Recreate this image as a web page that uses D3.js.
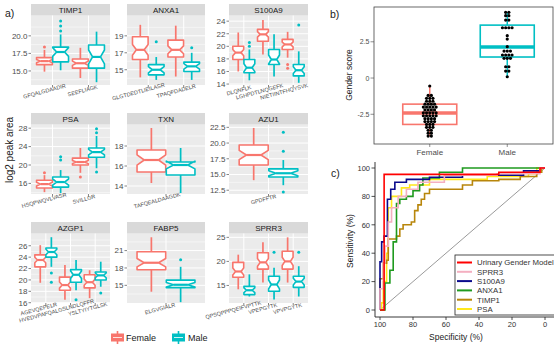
<!DOCTYPE html>
<html>
<head>
<meta charset="utf-8">
<script src="https://cdn.jsdelivr.net/npm/d3@7"></script>
<style>
body { margin: 0; background: #fff; }
svg { display: block; font-family: "Liberation Sans", Arial, sans-serif; }
</style>
</head>
<body>
<svg id="fig" width="554" height="347"></svg>
<script>
"use strict";

// ---- a) peptide boxplots ----
var sexes = ["Female", "Male"];
var sexColours = ["#F8766D", "#00BFC4"];
var groupSizes = [46, 28]; // used for the notches

var proteins = ["TIMP1", "ANXA1", "S100A9", "PSA", "TXN", "AZU1", "AZGP1", "FABP5", "SPRR3"];
var peptides = [
	["GFQALGDAADIR", "SEEFLIAGK"],
	["GLGTDEDTLIEILASR", "TPAQFDADELR"],
	["DLQNFLK", "LGHPDTLNQGEFK", "NIETIINTFHQYSVK"],
	["HSQPWQVLVASR", "SVILLGR"],
	["TAFQEALDAAGDK"],
	["GPDFFTR"],
	["AGEVQEPELR", "HVEDVPAFQALGSLNDLQFFR", "YSLTYIYTGLSK"],
	["ELGVGIALR"],
	["QPSQPPPQEIFVPTTK", "VPEPGYTK", "VPVPGYTK"]
];
var yDomains = [[13, 22.9], [13.2, 21.4], [13.85, 24.9], [13.7, 28.8], [13.2, 20.15],
	[11.9, 22.95], [15.95, 28.15], [11.95, 23.95], [11.35, 25.8]];
var yTicks = [[15, 17.5, 20], [15, 17, 19], [14, 16, 18, 20, 22, 24], [16, 20, 24, 28], [14, 16, 18],
	[12.5, 15, 17.5, 20, 22.5], [16, 18, 20, 22, 24, 26], [15, 18, 21], [15, 20, 25]];

// [lower whisker, Q1, median, Q3, upper whisker] per peptide
var femaleStats = [
	[[14.9, 15.9, 16.4, 16.9, 18.0], [14.0, 15.4, 16.1, 16.7, 18.3]],
	[[14.1, 16.2, 17.35, 18.9, 20.3], [14.2, 16.5, 17.35, 18.5, 20.2]],
	[[16.0, 17.9, 19.0, 20.0, 22.2], [18.7, 20.8, 21.9, 22.7, 24.2], [18.2, 19.5, 20.3, 21.1, 22.3]],
	[[14.1, 15.0, 15.85, 16.7, 17.8], [18.3, 20.0, 20.65, 21.5, 23.7]],
	[[14.3, 15.4, 16.6, 17.6, 19.8]],
	[[14.1, 16.5, 18.1, 19.7, 22.4]],
	[[19.5, 22.3, 23.5, 24.4, 26.1], [16.5, 18.2, 19.1, 20.5, 22.6], [16.8, 18.6, 19.6, 20.9, 21.7]],
	[[13.9, 17.7, 18.9, 20.8, 23.3]],
	[[14.2, 16.7, 17.9, 19.8, 21.4], [15.6, 18.4, 19.8, 21.8, 24.0], [15.6, 18.4, 20.0, 22.1, 25.0]]
];
var maleStats = [
	[[15.1, 16.3, 17.7, 18.4, 20.2], [13.4, 15.4, 17.0, 18.7, 20.6]],
	[[13.8, 14.4, 15.0, 15.6, 16.5], [13.8, 14.8, 15.4, 15.9, 17.0]],
	[[14.6, 15.8, 16.6, 17.9, 19.5], [15.2, 17.1, 17.9, 19.5, 21.9], [14.2, 15.3, 16.2, 17.1, 19.2]],
	[[13.9, 15.2, 16.3, 17.4, 18.9], [19.3, 21.7, 22.8, 23.7, 26.3]],
	[[13.3, 15.1, 16.1, 16.4, 17.8]],
	[[13.3, 14.6, 15.2, 15.9, 17.3]],
	[[22.3, 24.0, 24.9, 25.6, 27.5], [18.2, 19.6, 20.9, 21.8, 23.5], [18.8, 20.0, 20.8, 21.4, 23.2]],
	[[12.1, 14.6, 15.1, 15.9, 18.2]],
	[[12.7, 13.1, 14.0, 14.8, 17.3], [12.1, 13.8, 15.2, 16.9, 18.7], [12.7, 14.6, 15.8, 16.9, 19.0]]
];
var femaleOutliers = [[[18.4], []], [[], []], [[], [], [17.1, 16.5]], [[18.3], [17.4]], [[]], [[]],
	[[], [], []], [[]], [[], [], []]];
var maleOutliers = [[[22.1, 21.4, 20.7], []], [[18.3], [17.6]], [[20.0, 20.6], [], [23.4]],
	[[21.1, 21.8], [27.9, 27.0, 18.5]], [[]], [[21.7, 18.7, 12.2]],
	[[21.2, 19.6], [16.5], [17.7]], [[19.4]], [[], [21.9], [21.9]]];

// ---- b) gender score ----
var femaleScores = [-0.55, -1.2, -1.2, -1.4, -1.4, -1.4, -1.6, -1.6, -1.6, -1.8, -1.8, -1.8, -1.8,
	-2.0, -2.0, -2.0, -2.0, -2.0, -2.2, -2.2, -2.2, -2.2, -2.4, -2.4, -2.4, -2.4, -2.4,
	-2.6, -2.6, -2.6, -2.6, -2.6, -2.8, -2.8, -2.8, -2.8, -3.0, -3.0, -3.0, -3.0,
	-3.2, -3.2, -3.2, -3.4, -3.4, -3.4, -3.6, -3.6, -3.8, -3.8, -4.0, -4.0];
var maleScores = [4.53, 4.53, 4.3, 4.3, 4.0, 4.0, 3.47, 3.47, 3.47, 3.47, 2.92, 2.69, 2.16,
	1.86, 1.86, 1.86, 1.59, 1.59, 1.59, 1.59, 1.36, 1.36, 1.36, 0.78, 0.78, 0.48, 0.48, 0.09];
var scoreStats = [[-4.0, -3.2, -2.42, -1.8, -0.55], [0.07, 1.45, 2.14, 3.65, 4.5]];
var scoreTicks = [-2.5, 0, 2.5];

// ---- c) ROC curves, [specificity %, sensitivity %] corners ----
var rocNames = ["Urinary Gender Model", "SPRR3", "S100A9", "ANXA1", "TIMP1", "PSA"];
var rocColours = ["#FF0000", "#F4AFC0", "#0A0A8C", "#1F9A1F", "#B8860B", "#FFE81A"];
var rocModel = [[100, 0], [97.5, 0], [97.5, 95.5], [28, 95.5], [28, 97], [3, 97], [3, 100], [0, 100]];
var rocSPRR3 = [[100, 0], [100, 15], [98, 15], [98, 33], [97, 33], [97, 45], [95, 45], [95, 62], [93, 62],
	[93, 72], [89, 72], [89, 80], [84, 80], [84, 85], [77, 85], [77, 90], [61, 90], [61, 95], [29, 95],
	[29, 96], [3, 96], [3, 100], [0, 100]];
var rocS100A9 = [[100, 0], [100, 34], [99, 34], [99, 48], [97.5, 48], [97.5, 52], [95.5, 52], [95.5, 78],
	[93.5, 78], [93.5, 85], [91, 85], [91, 90], [84, 90], [84, 92], [70, 92], [70, 93.5], [50, 93.5],
	[50, 95], [13, 95], [13, 98], [3, 98], [3, 100], [0, 100]];
var rocANXA1 = [[100, 0], [97, 0], [97, 19], [94, 19], [94, 28], [92, 28], [92, 48], [90, 48], [90, 75],
	[88, 75], [88, 78], [84, 78], [84, 80], [80, 80], [80, 84], [76, 84], [76, 88], [74, 88], [74, 93],
	[64, 93], [64, 97], [50, 97], [50, 100], [0, 100]];
var rocTIMP1 = [[100, 0], [100, 22], [98, 22], [98, 33], [96, 33], [96, 35], [95, 35], [95, 50], [90, 50],
	[90, 52], [88, 52], [88, 57], [86, 57], [86, 60], [81, 60], [81, 62], [79, 62], [79, 70], [77, 70],
	[77, 74], [75, 74], [75, 78], [73, 78], [73, 82], [70, 82], [70, 85], [50, 85], [50, 88], [44, 88],
	[44, 91], [28, 91], [28, 92], [15, 92], [15, 94], [5, 94], [5, 97], [2, 97], [2, 100], [0, 100]];
var rocPSA = [[100, 0], [99, 0], [99, 5], [98, 5], [98, 20], [96, 20], [96, 40], [95, 40], [95, 72],
	[93, 72], [93, 80], [87, 80], [87, 86], [82, 86], [82, 88], [70, 88], [70, 92], [35, 92], [35, 94],
	[10, 94], [10, 96], [5, 96], [5, 100], [0, 100]];
var rocCurves = [rocModel, rocSPRR3, rocS100A9, rocANXA1, rocTIMP1, rocPSA];
var rocTicks = [0, 20, 40, 60, 80, 100];


var svg = d3.select("#fig");
var grey30 = "#4D4D4D";

function label (x, y, txt, size, opts) {
	opts = opts || {};
	return svg.append("text")
		.attr("x", x).attr("y", y)
		.attr("font-size", size)
		.attr("fill", opts.fill || "#1A1A1A")
		.attr("text-anchor", opts.anchor || "start")
		.attr("transform", opts.rotate ? "rotate(" + opts.rotate + "," + x + "," + y + ")" : null)
		.text(txt);
}

// ========== a) ==========
var colX = [[31, 110], [127, 205], [229, 308]];
var rowY = [[15.5, 85], [124.5, 194], [233.5, 303]];
var stripH = 11.5;

proteins.forEach(function (prot, i) {
	var x0 = colX[i % 3][0], x1 = colX[i % 3][1];
	var y0 = rowY[Math.floor(i / 3)][0], y1 = rowY[Math.floor(i / 3)][1];
	var g = svg.append("g");
	var y = d3.scaleLinear().domain(yDomains[i]).range([y1, y0]);
	var x = d3.scalePoint().domain(peptides[i]).range([x0, x1]).padding(0.6);
	var bw = x.step() * 0.9 / 2; // one box width, dodged

	g.append("rect").attr("x", x0).attr("y", y0).attr("width", x1 - x0).attr("height", y1 - y0)
		.attr("fill", "#EBEBEB");
	// strip
	g.append("rect").attr("x", x0).attr("y", y0 - stripH).attr("width", x1 - x0).attr("height", stripH)
		.attr("fill", "#D9D9D9");
	g.append("text").attr("x", (x0 + x1) / 2).attr("y", y0 - 3).attr("text-anchor", "middle")
		.attr("font-size", 8).attr("fill", "#1A1A1A").text(prot);

	// grid
	var ticks = yTicks[i], st = ticks[1] - ticks[0];
	var minors = d3.range(ticks[0] - st / 2, ticks[ticks.length - 1] + st, st)
		.filter(v => v > yDomains[i][0] && v < yDomains[i][1]);
	g.selectAll(".mn").data(minors).enter().append("line")
		.attr("x1", x0).attr("x2", x1).attr("y1", d => y(d)).attr("y2", d => y(d))
		.attr("stroke", "#fff").attr("stroke-width", 0.5);
	g.selectAll(".mj").data(ticks).enter().append("line")
		.attr("x1", x0).attr("x2", x1).attr("y1", d => y(d)).attr("y2", d => y(d))
		.attr("stroke", "#fff").attr("stroke-width", 1);
	g.selectAll(".vx").data(peptides[i]).enter().append("line")
		.attr("x1", d => x(d)).attr("x2", d => x(d)).attr("y1", y0).attr("y2", y1)
		.attr("stroke", "#fff").attr("stroke-width", 1);

	// y axis
	var dec = ticks.some(v => v % 1 !== 0);
	ticks.forEach(function (v) {
		g.append("line").attr("x1", x0 - 2.5).attr("x2", x0).attr("y1", y(v)).attr("y2", y(v))
			.attr("stroke", "#333").attr("stroke-width", 0.6);
		g.append("text").attr("x", x0 - 3.5).attr("y", y(v) + 2.8).attr("text-anchor", "end")
			.attr("font-size", 8).attr("fill", grey30).text(dec ? v.toFixed(1) : v);
	});

	// x axis: rotated peptide labels
	peptides[i].forEach(function (p) {
		var px = x(p), py = y1 + 6;
		g.append("line").attr("x1", px).attr("x2", px).attr("y1", y1).attr("y2", y1 + 2.5)
			.attr("stroke", "#333").attr("stroke-width", 0.6);
		var t = g.append("text").attr("x", px).attr("y", py).attr("font-size", 5.5)
			.attr("fill", grey30).text(p);
		var len = t.node().getComputedTextLength();
		t.attr("dx", -0.68 * len).attr("transform", "rotate(-15," + px + "," + py + ")");
	});

	// boxes
	peptides[i].forEach(function (p, j) {
		[femaleStats, maleStats].forEach(function (stats, s) {
			var d = stats[i][j], col = sexColours[s];
			var cx = x(p) + (s === 0 ? -bw / 2 : bw / 2), hw = bw / 2 * 0.98;
			var notch = 1.58 * (d[3] - d[1]) / Math.sqrt(groupSizes[s]);
			var xl = cx - hw, xr = cx + hw, ind = hw * 0.5;
			g.append("line").attr("x1", cx).attr("x2", cx).attr("y1", y(d[3])).attr("y2", y(d[4]))
				.attr("stroke", col).attr("stroke-width", 1.7);
			g.append("line").attr("x1", cx).attr("x2", cx).attr("y1", y(d[1])).attr("y2", y(d[0]))
				.attr("stroke", col).attr("stroke-width", 1.7);
			var pts = [[xl, d[3]], [xl, d[2] + notch], [xl + ind, d[2]], [xl, d[2] - notch], [xl, d[1]],
				[xr, d[1]], [xr, d[2] - notch], [xr - ind, d[2]], [xr, d[2] + notch], [xr, d[3]]];
			g.append("path")
				.attr("d", "M" + pts.map(q => q[0] + "," + y(q[1])).join("L") + "Z")
				.attr("fill", "#fff").attr("stroke", col).attr("stroke-width", 1.6)
				.attr("stroke-linejoin", "round");
			g.append("line").attr("x1", xl + ind).attr("x2", xr - ind).attr("y1", y(d[2])).attr("y2", y(d[2]))
				.attr("stroke", col).attr("stroke-width", 2.2);
			var outs = (s === 0 ? femaleOutliers : maleOutliers)[i][j];
			g.selectAll(null).data(outs).enter().append("circle")
				.attr("cx", cx).attr("cy", v => y(v)).attr("r", 1.5).attr("fill", col);
		});
	});
});

label(5, 17, "a)", 10.5);
label(13, 150, "log2 peak area", 10, { anchor: "middle", rotate: -90 });

// legend of a)
[[111, 126], [172, 188]].forEach(function (pos, s) {
	var kx = pos[0];
	svg.append("line").attr("x1", kx + 6.5).attr("x2", kx + 6.5).attr("y1", 331).attr("y2", 344)
		.attr("stroke", sexColours[s]).attr("stroke-width", 1.6);
	svg.append("rect").attr("x", kx).attr("y", 333.5).attr("width", 13).attr("height", 8)
		.attr("fill", sexColours[s]);
	svg.append("line").attr("x1", kx + 2).attr("x2", kx + 11).attr("y1", 337.5).attr("y2", 337.5)
		.attr("stroke", "#fff").attr("stroke-width", 0.8);
	label(pos[1], 341, sexes[s], 9);
});

// ========== b) ==========
var bL = 374, bR = 553, bT = 7, bB = 144;
var yB = d3.scaleLinear().domain([-4.55, 4.9]).range([bB, bT]);
var xB = d3.scalePoint().domain(sexes).range([391, 546]).padding(0.5);
svg.append("rect").attr("x", bL).attr("y", bT).attr("width", bR - bL).attr("height", bB - bT)
	.attr("fill", "#fff").attr("stroke", "#444").attr("stroke-width", 0.8);
scoreTicks.forEach(function (v) {
	svg.append("line").attr("x1", bL - 3.5).attr("x2", bL).attr("y1", yB(v)).attr("y2", yB(v))
		.attr("stroke", "#444").attr("stroke-width", 0.6);
	label(bL - 4.5, yB(v) + 2.5, v, 7, { anchor: "end", fill: grey30 });
});
sexes.forEach(function (sx, s) {
	var cx = xB(sx), d = scoreStats[s], col = sexColours[s], hw = 27;
	svg.append("line").attr("x1", cx).attr("x2", cx).attr("y1", bB).attr("y2", bB + 3)
		.attr("stroke", "#444").attr("stroke-width", 0.6);
	label(cx, bB + 10.5, sx, 8, { anchor: "middle", fill: grey30 });
	svg.append("line").attr("x1", cx).attr("x2", cx).attr("y1", yB(d[0])).attr("y2", yB(d[4]))
		.attr("stroke", col).attr("stroke-width", 1.5);
	svg.append("rect").attr("x", cx - hw).attr("y", yB(d[3])).attr("width", 2 * hw)
		.attr("height", yB(d[1]) - yB(d[3])).attr("fill", "#fff").attr("stroke", col).attr("stroke-width", 1.6);
	svg.append("line").attr("x1", cx - hw).attr("x2", cx + hw).attr("y1", yB(d[2])).attr("y2", yB(d[2]))
		.attr("stroke", col).attr("stroke-width", 3.5);
	// centred dot stacks
	var scores = s === 0 ? femaleScores : maleScores;
	d3.rollups(scores, v => v.length, v => v).forEach(function (bin) {
		for (var k = 0; k < bin[1]; k++) {
			svg.append("circle").attr("cx", cx + (k - (bin[1] - 1) / 2) * 3.2)
				.attr("cy", yB(bin[0])).attr("r", 1.6).attr("fill", "#000");
		}
	});
});
label(352, 75, "Gender score", 8.5, { anchor: "middle", rotate: -90, fill: "#222" });
label(330, 18, "b)", 10.5);

// ========== c) ==========
var xC = d3.scaleLinear().domain([100, 0]).range([380, 545]);
var yC = d3.scaleLinear().domain([0, 100]).range([310, 168]);
var cL = 375, cB = 317;
svg.append("line").attr("x1", cL).attr("x2", cL).attr("y1", 162).attr("y2", cB)
	.attr("stroke", "#222").attr("stroke-width", 0.9);
svg.append("line").attr("x1", cL).attr("x2", 554).attr("y1", cB).attr("y2", cB)
	.attr("stroke", "#222").attr("stroke-width", 0.9);
rocTicks.forEach(function (v) {
	svg.append("line").attr("x1", cL - 3.5).attr("x2", cL).attr("y1", yC(v)).attr("y2", yC(v))
		.attr("stroke", "#222").attr("stroke-width", 0.8);
	label(cL - 5, yC(v) + 2.8, v, 7.5, { anchor: "end", fill: "#333" });
	svg.append("line").attr("x1", xC(v)).attr("x2", xC(v)).attr("y1", cB).attr("y2", cB + 3)
		.attr("stroke", "#222").attr("stroke-width", 0.8);
	label(xC(v), cB + 9.5, v, 7.5, { anchor: "middle", fill: "#333" });
});
svg.append("line").attr("x1", xC(100)).attr("y1", yC(0)).attr("x2", xC(0)).attr("y2", yC(100))
	.attr("stroke", "#9A9A9A").attr("stroke-width", 1);
var rocLine = d3.line().x(d => xC(d[0])).y(d => yC(d[1]));
for (var r = rocCurves.length - 1; r >= 0; r--) {
	svg.append("path").attr("d", rocLine(rocCurves[r])).attr("fill", "none")
		.attr("stroke", rocColours[r]).attr("stroke-width", 1.6);
}
// legend
svg.append("rect").attr("x", 455).attr("y", 255).attr("width", 104).attr("height", 60)
	.attr("fill", "#fff").attr("stroke", "#222").attr("stroke-width", 0.8);
rocNames.forEach(function (nm, k) {
	var ly = 262.5 + k * 9.3;
	svg.append("line").attr("x1", 457).attr("x2", 472).attr("y1", ly).attr("y2", ly)
		.attr("stroke", rocColours[k]).attr("stroke-width", 2);
	label(477, ly + 2.8, nm, 7.8, { fill: "#333" });
});
label(353, 241, "Sensitivity (%)", 8.5, { anchor: "middle", rotate: -90, fill: "#222" });
label(456, 340, "Specificity (%)", 8.5, { anchor: "middle", fill: "#222" });
label(331, 177, "c)", 10.5);
</script>
</body>
</html>
